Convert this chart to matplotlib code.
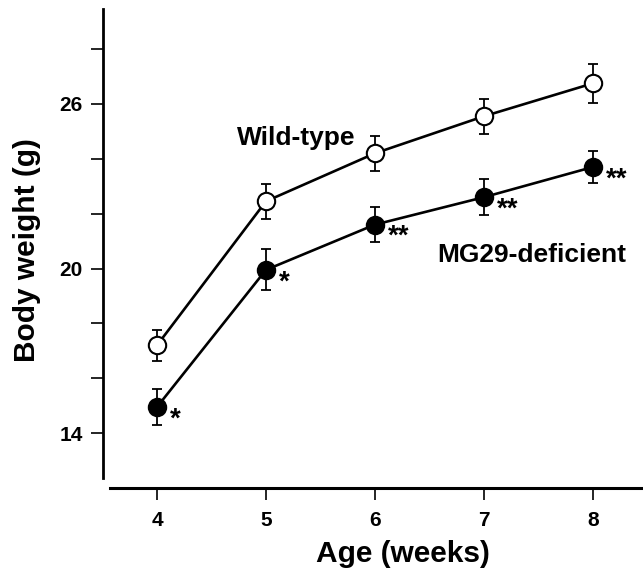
import matplotlib.pyplot as plt

plt.rcParams['font.family'] = ['Liberation Sans', 'DejaVu Sans']
plt.rcParams['font.weight'] = 'bold'

# data
weeks = [4, 5, 6, 7, 8]
wt_mean = [17.2, 22.45, 24.2, 25.55, 26.75]
wt_sem = [0.57, 0.63, 0.64, 0.64, 0.70]
mg_mean = [14.95, 19.95, 21.6, 22.6, 23.7]
mg_sem = [0.67, 0.75, 0.64, 0.65, 0.60]
mg_sig = ['*', '*', '**', '**', '**']

y_ticks = [14, 16, 18, 20, 22, 24, 26, 28]
y_labels = ['14', '', '', '20', '', '', '26', '']

W, H = 643, 571
fig = plt.figure(figsize=(W / 100, H / 100), dpi=100)
ax = fig.add_axes([103 / W, (H - 488) / H, (W - 103) / W, (488 - 9) / H])

ax.set_xlim(3.505, 8.46)
ax.set_ylim(12.0, 29.46)

for mean, sem, face in [(wt_mean, wt_sem, 'white'), (mg_mean, mg_sem, 'black')]:
    ax.errorbar(weeks, mean, yerr=sem, fmt='none', ecolor='black',
                elinewidth=1.3, capsize=3.5, capthick=1.3, zorder=2)
    ax.plot(weeks, mean, '-', color='black', lw=1.9, zorder=3)
    ax.plot(weeks, mean, 'o', ms=12.5, mfc=face, mec='black', mew=1.5,
            zorder=4)

# significance stars next to the MG29-deficient points
for x, y, s in zip(weeks, mg_mean, mg_sig):
    ax.annotate(s, (x, y), xytext=(9.5, -14), textcoords='offset points',
                ha='left', va='baseline', fontsize=20, fontweight='bold')

fig.text(296 / W, 1 - 138 / H, 'Wild-type', ha='center', va='center',
         fontsize=19, fontweight='bold')
fig.text(532 / W, 1 - 255 / H, 'MG29-deficient', ha='center', va='center',
         fontsize=19, fontweight='bold')

for side in ['top', 'right']:
    ax.spines[side].set_visible(False)
ax.spines['left'].set_bounds(12.36, 29.46)
ax.spines['bottom'].set_bounds(3.57, 8.46)
ax.spines['left'].set_linewidth(2.0)
ax.spines['bottom'].set_linewidth(2.2)

ax.set_xticks(weeks)
ax.set_xticklabels([str(w) for w in weeks])
ax.set_yticks(y_ticks)
ax.set_yticklabels(y_labels)
ax.tick_params(axis='both', direction='out', length=8.5, width=1.2,
               labelsize=15, pad=6)
ax.tick_params(axis='x', pad=8)

fig.text(403 / W, 1 - 554 / H, 'Age (weeks)', ha='center', va='center',
         fontsize=21.5, fontweight='bold')
fig.text(27 / W, 1 - 250 / H, 'Body weight (g)', ha='center', va='center',
         rotation=90, fontsize=21.5, fontweight='bold')

fig.savefig('out.png', dpi=100)
